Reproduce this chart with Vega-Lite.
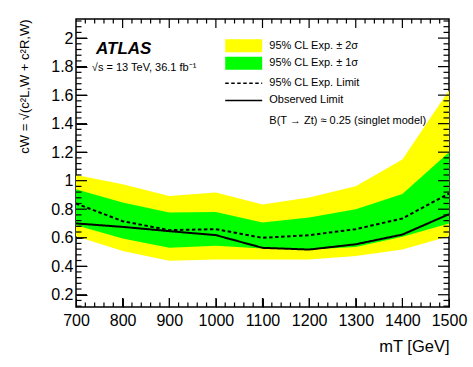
{
  "$schema": "https://vega.github.io/schema/vega-lite/v6.json",
  "width": 373,
  "height": 288,
  "autosize": "none",
  "padding": {"left": 76, "top": 19, "right": 24, "bottom": 60},
  "background": "white",
  "config": {
    "view": {"stroke": "black", "strokeWidth": 1.5},
    "font": "Liberation Sans",
    "axis": {"ticks": true, "tickColor": "#000000", "tickOpacity": 1, "labelColor": "black", "titleColor": "black", "grid": false, "domain": false, "labelFont": "Liberation Sans", "titleFont": "Liberation Sans", "titleFontWeight": "normal", "labelFlush": false, "labelOverlap": false, "zindex": 2},
    "legend": {"labelFont": "Liberation Sans", "labelFontSize": 11, "labelColor": "black", "labelLimit": 400, "padding": 0, "title": null}
  },
  "data": {
    "values": [
      {"mT": 700, "lo2": 0.61, "lo1": 0.688, "exp": 0.84, "obs": 0.70, "hi1": 0.94, "hi2": 1.039},
      {"mT": 800, "lo2": 0.507, "lo1": 0.594, "exp": 0.716, "obs": 0.676, "hi1": 0.847, "hi2": 0.975},
      {"mT": 900, "lo2": 0.438, "lo1": 0.529, "exp": 0.653, "obs": 0.646, "hi1": 0.776, "hi2": 0.893},
      {"mT": 1000, "lo2": 0.447, "lo1": 0.543, "exp": 0.66, "obs": 0.618, "hi1": 0.781, "hi2": 0.917},
      {"mT": 1100, "lo2": 0.447, "lo1": 0.524, "exp": 0.599, "obs": 0.529, "hi1": 0.706, "hi2": 0.833},
      {"mT": 1200, "lo2": 0.447, "lo1": 0.517, "exp": 0.618, "obs": 0.517, "hi1": 0.742, "hi2": 0.882},
      {"mT": 1300, "lo2": 0.472, "lo1": 0.535, "exp": 0.66, "obs": 0.554, "hi1": 0.80, "hi2": 0.961},
      {"mT": 1400, "lo2": 0.517, "lo1": 0.606, "exp": 0.735, "obs": 0.622, "hi1": 0.906, "hi2": 1.149},
      {"mT": 1500, "lo2": 0.61, "lo1": 0.70, "exp": 0.91, "obs": 0.765, "hi1": 1.20, "hi2": 1.635}
    ]
  },
  "datasets": {
    "xmaj": [{"v": 800}, {"v": 900}, {"v": 1000}, {"v": 1100}, {"v": 1200}, {"v": 1300}, {"v": 1400}],
    "xmin": [
      {"v": 720}, {"v": 740}, {"v": 760}, {"v": 780}, {"v": 820}, {"v": 840}, {"v": 860}, {"v": 880},
      {"v": 920}, {"v": 940}, {"v": 960}, {"v": 980}, {"v": 1020}, {"v": 1040}, {"v": 1060}, {"v": 1080},
      {"v": 1120}, {"v": 1140}, {"v": 1160}, {"v": 1180}, {"v": 1220}, {"v": 1240}, {"v": 1260}, {"v": 1280},
      {"v": 1320}, {"v": 1340}, {"v": 1360}, {"v": 1380}, {"v": 1420}, {"v": 1440}, {"v": 1460}, {"v": 1480}
    ],
    "ymaj": [{"v": 0.2}, {"v": 0.4}, {"v": 0.6}, {"v": 0.8}, {"v": 1}, {"v": 1.2}, {"v": 1.4}, {"v": 1.6}, {"v": 1.8}, {"v": 2}],
    "ymin": [
      {"v": 0.12}, {"v": 0.16}, {"v": 0.24}, {"v": 0.28}, {"v": 0.32}, {"v": 0.36}, {"v": 0.44}, {"v": 0.48}, {"v": 0.52}, {"v": 0.56},
      {"v": 0.64}, {"v": 0.68}, {"v": 0.72}, {"v": 0.76}, {"v": 0.84}, {"v": 0.88}, {"v": 0.92}, {"v": 0.96}, {"v": 1.04}, {"v": 1.08},
      {"v": 1.12}, {"v": 1.16}, {"v": 1.24}, {"v": 1.28}, {"v": 1.32}, {"v": 1.36}, {"v": 1.44}, {"v": 1.48}, {"v": 1.52}, {"v": 1.56},
      {"v": 1.64}, {"v": 1.68}, {"v": 1.72}, {"v": 1.76}, {"v": 1.84}, {"v": 1.88}, {"v": 1.92}, {"v": 1.96}, {"v": 2.04}, {"v": 2.08}, {"v": 2.12}
    ]
  },
  "resolve": {"axis": {"x": "independent", "y": "independent"}},
  "layer": [
    {
      "mark": {"type": "area", "opacity": 1},
      "encoding": {
        "x": {
          "field": "mT", "type": "quantitative",
          "scale": {"domain": [700, 1500], "nice": false, "zero": false},
          "axis": {
            "orient": "bottom",
            "values": [700, 800, 900, 1000, 1100, 1200, 1300, 1400, 1500],
            "format": "d",
            "tickSize": -9, "tickWidth": 1,
            "labelFontSize": 16,
            "labelPadding": 14,
            "title": "mT [GeV]",
            "titleFontSize": 16.5,
            "titleAnchor": "end",
            "titlePadding": 10
          }
        },
        "y": {
          "field": "lo2", "type": "quantitative",
          "scale": {"domain": [0.114, 2.134], "nice": false, "zero": false},
          "axis": {
            "orient": "left",
            "values": [0.2, 0.4, 0.6, 0.8, 1, 1.2, 1.4, 1.6, 1.8, 2],
            "format": "~g",
            "tickSize": -11, "tickWidth": 1,
            "labelFontSize": 16,
            "labelPadding": 14,
            "title": "cW = √(c²L,W + c²R,W)",
            "titleFontSize": 13,
            "titleAnchor": "end",
            "titlePadding": 19
          }
        },
        "y2": {"field": "hi2"},
        "fill": {
          "datum": "95% CL Exp. ± 2σ", "type": "nominal",
          "scale": {"domain": ["95% CL Exp. ± 2σ", "95% CL Exp. ± 1σ"], "range": ["#ffff00", "#00ff00"]},
          "legend": {
            "orient": "none",
            "legendX": 159.7,
            "legendY": 18.7,
            "symbolType": "M-2.31,-0.81H2.31V0.81H-2.31Z",
            "symbolSize": 256,
            "symbolStrokeWidth": 0,
            "symbolOpacity": 1,
            "labelOffset": 17.6,
            "rowPadding": 2.6
          }
        }
      }
    },
    {
      "mark": {"type": "area", "opacity": 1},
      "encoding": {
        "x": {"field": "mT", "type": "quantitative", "axis": null},
        "y": {"field": "lo1", "type": "quantitative", "axis": null},
        "y2": {"field": "hi1"},
        "fill": {"datum": "95% CL Exp. ± 1σ", "type": "nominal"}
      }
    },
    {
      "mark": {"type": "line", "strokeWidth": 2, "color": "black"},
      "encoding": {
        "x": {"field": "mT", "type": "quantitative", "axis": null},
        "y": {"field": "exp", "type": "quantitative", "axis": null},
        "strokeDash": {
          "datum": "95% CL Exp. Limit", "type": "nominal",
          "scale": {"domain": ["95% CL Exp. Limit", "Observed Limit"], "range": [[3.5, 2.5], [1, 0]]},
          "legend": {
            "orient": "none",
            "legendX": 158.7,
            "legendY": 55.2,
            "symbolType": "M-2.31,0H2.31",
            "symbolSize": 256,
            "symbolStrokeWidth": 1.5,
            "symbolStrokeColor": "black",
            "symbolOpacity": 1,
            "labelOffset": 16.6,
            "rowPadding": 3.2
          }
        }
      }
    },
    {
      "mark": {"type": "line", "strokeWidth": 2, "color": "black"},
      "encoding": {
        "x": {"field": "mT", "type": "quantitative", "axis": null},
        "y": {"field": "obs", "type": "quantitative", "axis": null},
        "strokeDash": {"datum": "Observed Limit", "type": "nominal"}
      }
    },
    {
      "data": {"values": [{"t": "ATLAS"}]},
      "mark": {"type": "text", "align": "left", "baseline": "alphabetic", "font": "Liberation Sans", "fontWeight": "bold", "fontStyle": "italic", "fontSize": 17, "color": "black"},
      "encoding": {
        "x": {"datum": 743, "type": "quantitative", "axis": null},
        "y": {"datum": 1.888, "type": "quantitative", "axis": null},
        "text": {"field": "t"}
      }
    },
    {
      "data": {"values": [{"t": "√s = 13 TeV, 36.1 fb⁻¹"}]},
      "mark": {"type": "text", "align": "left", "baseline": "alphabetic", "font": "Liberation Sans", "fontSize": 11, "color": "black"},
      "encoding": {
        "x": {"datum": 734, "type": "quantitative", "axis": null},
        "y": {"datum": 1.77, "type": "quantitative", "axis": null},
        "text": {"field": "t"}
      }
    },
    {
      "data": {"values": [{"t": "B(T → Zt) ≈ 0.25 (singlet model)"}]},
      "mark": {"type": "text", "align": "left", "baseline": "middle", "font": "Liberation Sans", "fontSize": 11, "color": "black"},
      "encoding": {
        "x": {"datum": 1114.6, "type": "quantitative", "axis": null},
        "y": {"datum": 1.42, "type": "quantitative", "axis": null},
        "text": {"field": "t"}
      }
    },
    {
      "data": {"name": "xmaj"},
      "mark": {"type": "rule", "color": "black", "strokeWidth": 1.2},
      "encoding": {
        "x": {"field": "v", "type": "quantitative", "axis": null},
        "y": {"datum": 0.114, "type": "quantitative", "axis": null},
        "y2": {"datum": 0.177}
      }
    },
    {
      "data": {"name": "xmin"},
      "mark": {"type": "rule", "color": "black", "strokeWidth": 1.2},
      "encoding": {
        "x": {"field": "v", "type": "quantitative", "axis": null},
        "y": {"datum": 0.114, "type": "quantitative", "axis": null},
        "y2": {"datum": 0.1456}
      }
    },
    {
      "data": {"name": "xmaj"},
      "mark": {"type": "rule", "color": "black", "strokeWidth": 1.2},
      "encoding": {
        "x": {"field": "v", "type": "quantitative", "axis": null},
        "y": {"datum": 2.134, "type": "quantitative", "axis": null},
        "y2": {"datum": 2.071}
      }
    },
    {
      "data": {"name": "xmin"},
      "mark": {"type": "rule", "color": "black", "strokeWidth": 1.2},
      "encoding": {
        "x": {"field": "v", "type": "quantitative", "axis": null},
        "y": {"datum": 2.134, "type": "quantitative", "axis": null},
        "y2": {"datum": 2.1024}
      }
    },
    {
      "data": {"name": "ymaj"},
      "mark": {"type": "rule", "color": "black", "strokeWidth": 1.2},
      "encoding": {
        "y": {"field": "v", "type": "quantitative", "axis": null},
        "x": {"datum": 700, "type": "quantitative", "axis": null},
        "x2": {"datum": 723.6}
      }
    },
    {
      "data": {"name": "ymin"},
      "mark": {"type": "rule", "color": "black", "strokeWidth": 1.2},
      "encoding": {
        "y": {"field": "v", "type": "quantitative", "axis": null},
        "x": {"datum": 700, "type": "quantitative", "axis": null},
        "x2": {"datum": 711.8}
      }
    },
    {
      "data": {"name": "ymaj"},
      "mark": {"type": "rule", "color": "black", "strokeWidth": 1.2},
      "encoding": {
        "y": {"field": "v", "type": "quantitative", "axis": null},
        "x": {"datum": 1500, "type": "quantitative", "axis": null},
        "x2": {"datum": 1476.4}
      }
    },
    {
      "data": {"name": "ymin"},
      "mark": {"type": "rule", "color": "black", "strokeWidth": 1.2},
      "encoding": {
        "y": {"field": "v", "type": "quantitative", "axis": null},
        "x": {"datum": 1500, "type": "quantitative", "axis": null},
        "x2": {"datum": 1488.2}
      }
    }
  ]
}
